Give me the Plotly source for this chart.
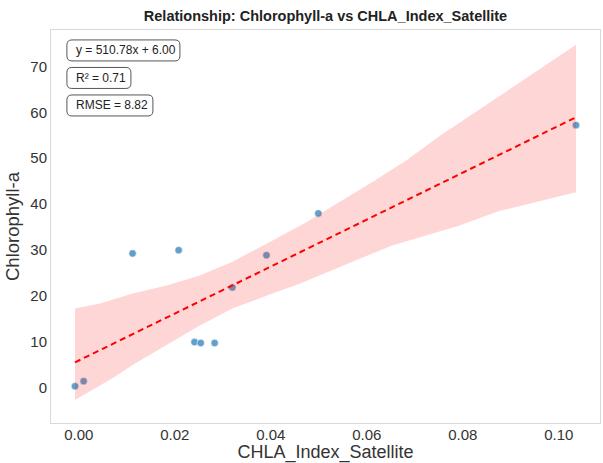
import plotly.graph_objects as go

# Observed points
x_vals = [-0.0008, 0.0010, 0.0112, 0.0208, 0.0241, 0.0254, 0.0283, 0.0320, 0.0391, 0.0499, 0.1036]
y_vals = [0.4, 1.5, 29.3, 30.0, 10.0, 9.8, 9.8, 21.9, 28.9, 38.0, 57.2]

# Fit
slope = 510.78
intercept = 6.00
r2 = 0.71
rmse = 8.82

# Confidence band
band_hi_x = [-0.0008, 0.0044, 0.0112, 0.0183, 0.0252, 0.0320, 0.0391, 0.0474, 0.0543, 0.0611, 0.0682, 0.0751, 0.0876, 0.1036]
band_hi = [17.3, 18.4, 20.6, 22.3, 24.5, 27.5, 31.4, 36.1, 40.5, 44.8, 49.5, 54.8, 63.5, 74.7]
band_lo_x = [-0.0008, 0.0071, 0.0112, 0.0183, 0.0252, 0.0320, 0.0391, 0.0460, 0.0584, 0.0653, 0.0792, 0.0876, 0.1036]
band_lo = [-2.6, 2.2, 5.0, 9.3, 13.6, 17.3, 20.1, 22.7, 28.1, 31.0, 35.3, 38.5, 42.6]

x_min, x_max = min(x_vals), max(x_vals)
line_x = [x_min, x_max]
line_y = [slope * v + intercept for v in line_x]

fig = go.Figure()
fig.add_trace(go.Scatter(
    x=x_vals, y=y_vals, mode="markers",
    marker=dict(size=7.5, color="rgba(31,119,180,0.7)", line=dict(color="white", width=0.6)),
    showlegend=False, hoverinfo="skip"))
fig.add_trace(go.Scatter(
    x=band_hi_x + band_lo_x[::-1], y=band_hi + band_lo[::-1],
    fill="toself", fillcolor="rgba(255,0,0,0.16)", line=dict(width=0),
    mode="lines", showlegend=False, hoverinfo="skip"))
fig.add_trace(go.Scatter(
    x=line_x, y=line_y, mode="lines",
    line=dict(color="red", width=2, dash="6px,4px"),
    showlegend=False, hoverinfo="skip"))

labels = [f"y = {slope:.2f}x + {intercept:.2f}", f"R² = {r2:.2f}", f"RMSE = {rmse:.2f}"]
ypos = [0.948, 0.878, 0.808]
box_w = [113, 64, 86]
box_h = 21
r = 5


def rounded(w, h, r):
    hh = h / 2
    return (f"M {r},{-hh} L {w - r},{-hh} Q {w},{-hh} {w},{-hh + r} "
            f"L {w},{hh - r} Q {w},{hh} {w - r},{hh} L {r},{hh} "
            f"Q 0,{hh} 0,{hh - r} L 0,{-hh + r} Q 0,{-hh} {r},{-hh} Z")


for t, yp, w in zip(labels, ypos, box_w):
    fig.add_shape(type="path", xref="paper", yref="paper",
                  xsizemode="pixel", ysizemode="pixel", xanchor=0.029, yanchor=yp,
                  path=rounded(w, box_h, r), line=dict(color="#555", width=1),
                  fillcolor="white", layer="above")
    fig.add_annotation(
        text=t, xref="paper", yref="paper", x=0.042, y=yp,
        xanchor="left", yanchor="middle", showarrow=False,
        font=dict(family="Liberation Sans, Arial", size=12, color="#222"))

fig.update_layout(
    width=603, height=463,
    margin=dict(l=51, r=2, t=30, b=38),
    paper_bgcolor="white", plot_bgcolor="white",
    title=dict(text="<b>Relationship: Chlorophyll-a vs CHLA_Index_Satellite</b>",
               x=0.5, xref="paper", xanchor="center", y=0.966, yanchor="middle",
               font=dict(family="Liberation Sans, Arial", size=14.5, color="#222")),
    font=dict(family="Liberation Sans, Arial", color="#333"),
)
fig.update_xaxes(
    range=[-0.0058, 0.1086], tickvals=[0, 0.02, 0.04, 0.06, 0.08, 0.10], tickformat=".2f",
    showgrid=False, zeroline=False, showline=True, mirror=True, linecolor="#d9d9d9", linewidth=1,
    tickfont=dict(size=15, color="#333"), ticks="", ticklabelstandoff=-2,
    title=dict(text="CHLA_Index_Satellite", font=dict(size=18, color="#333"), standoff=5))
fig.update_yaxes(
    range=[-7.6, 77.9], tickvals=[0, 10, 20, 30, 40, 50, 60, 70],
    showgrid=False, zeroline=False, showline=True, mirror=True, linecolor="#d9d9d9", linewidth=1,
    tickfont=dict(size=15, color="#333"), ticks="",
    title=dict(text="Chlorophyll-a", font=dict(size=18.5, color="#333"), standoff=5))

fig.write_html("out.html")
